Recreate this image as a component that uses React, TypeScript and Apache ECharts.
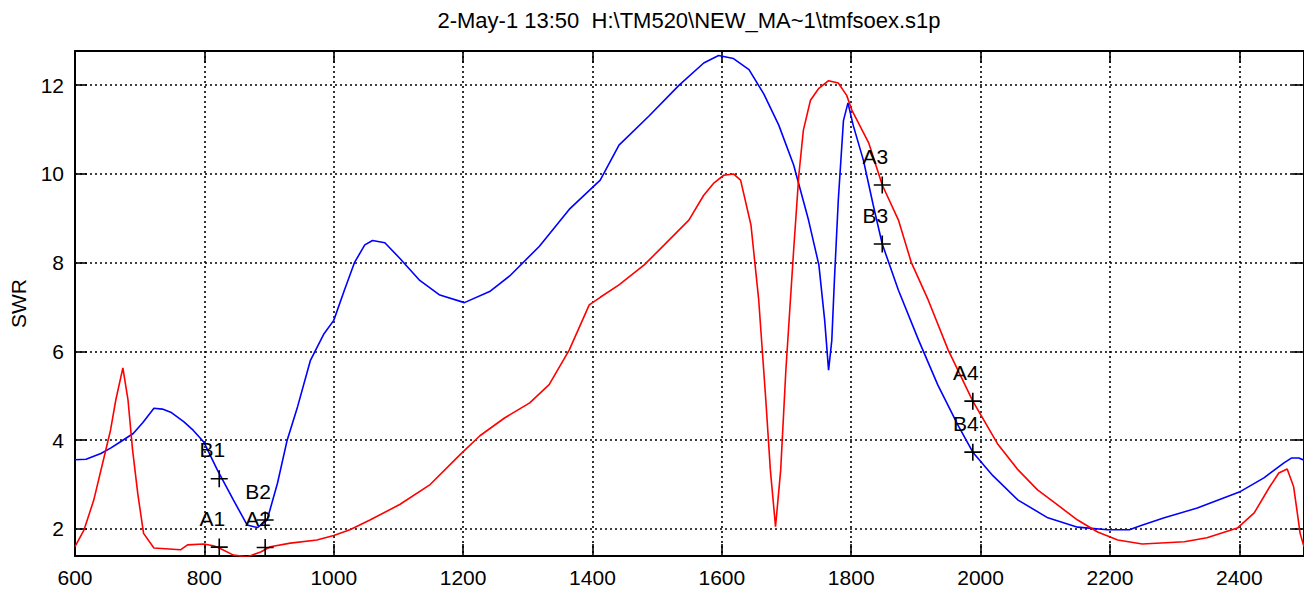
import React, { useEffect, useRef } from "react";
import * as echarts from "echarts";

const titleText = "2-May-1 13:50  H:\\TM520\\NEW_MA~1\\tmfsoex.s1p";
const yAxisName = "SWR";

const xTicks = [600, 800, 1000, 1200, 1400, 1600, 1800, 2000, 2200, 2400];
const yTicks = [2, 4, 6, 8, 10, 12];

const blueX = [600, 617, 640, 655, 671, 690, 705, 722, 735, 748, 768, 783, 799, 820, 845, 866, 882, 897, 913, 928, 944, 964, 985, 1000, 1017, 1032, 1048, 1060, 1079, 1102, 1133, 1164, 1202, 1241, 1272, 1318, 1364, 1412, 1441, 1487, 1534, 1572, 1595, 1618, 1642, 1665, 1688, 1711, 1734, 1750, 1759, 1765, 1770, 1774, 1780, 1788, 1795, 1803, 1819, 1834, 1848, 1873, 1904, 1934, 1965, 1988, 2019, 2058, 2104, 2150, 2196, 2230, 2247, 2284, 2335, 2400, 2438, 2469, 2481, 2492, 2500];
const blueY = [3.56, 3.57, 3.7, 3.82, 3.97, 4.15, 4.4, 4.72, 4.7, 4.63, 4.42, 4.22, 3.96, 3.33, 2.65, 2.09, 2.03, 2.2, 3.03, 4.0, 4.75, 5.8, 6.4, 6.7, 7.4, 8.0, 8.4, 8.5, 8.45, 8.1, 7.6, 7.27, 7.1, 7.35, 7.7, 8.37, 9.2, 9.86, 10.65, 11.3, 12.0, 12.5, 12.67, 12.6, 12.35, 11.8, 11.1, 10.2, 8.96, 7.95, 6.7, 5.58, 6.25, 7.6, 9.4, 11.2, 11.6, 11.1, 10.3, 9.3, 8.42, 7.38, 6.26, 5.24, 4.34, 3.73, 3.2, 2.65, 2.25, 2.04, 1.98, 1.98, 2.07, 2.25, 2.47, 2.83, 3.15, 3.49, 3.6, 3.6, 3.55];

const redX = [600, 614, 629, 645, 655, 663, 674, 682, 689, 697, 706, 722, 763, 774, 799, 814, 823, 845, 866, 887, 902, 933, 974, 1000, 1025, 1056, 1102, 1149, 1195, 1226, 1264, 1303, 1333, 1364, 1395, 1412, 1441, 1480, 1511, 1549, 1572, 1588, 1603, 1618, 1629, 1645, 1657, 1668, 1675, 1683, 1691, 1699, 1711, 1719, 1726, 1737, 1750, 1765, 1780, 1793, 1801, 1827, 1848, 1873, 1893, 1919, 1950, 1988, 2027, 2058, 2088, 2119, 2150, 2181, 2212, 2250, 2315, 2350, 2397, 2423, 2447, 2461, 2474, 2484, 2489, 2494, 2500];
const redY = [1.6, 1.98, 2.65, 3.62, 4.23, 4.9, 5.63, 4.9, 3.78, 2.8, 1.9, 1.57, 1.53, 1.64, 1.66, 1.62, 1.57, 1.41, 1.37, 1.48, 1.6, 1.68, 1.75, 1.85, 1.98, 2.2, 2.55, 3.0, 3.67, 4.1, 4.5, 4.84, 5.25, 6.03, 7.05, 7.22, 7.5, 7.95, 8.4, 8.96, 9.52, 9.8, 9.97, 10.0, 9.86, 8.85, 7.16, 4.9, 3.33, 2.05, 3.33, 5.58, 8.28, 9.97, 10.98, 11.66, 11.93, 12.1, 12.05, 11.77, 11.44, 10.7, 9.75, 8.96, 8.0, 7.16, 6.03, 4.88, 3.9, 3.33, 2.88, 2.54, 2.2, 1.93, 1.75, 1.66, 1.71, 1.8, 2.02, 2.36, 2.95, 3.26, 3.35, 2.95, 2.43, 1.9, 1.6];

const markerNames = ["A1", "A2", "B1", "B2", "A3", "B3", "A4", "B4"];
const markerX = [823, 894, 823, 894, 1848, 1848, 1988, 1988];
const markerY = [1.59, 1.58, 3.13, 2.2, 9.75, 8.42, 4.88, 3.73];

const FONT = "'Liberation Sans', Arial, sans-serif";

export default function App() {
  const ref = useRef<HTMLDivElement>(null);
  useEffect(() => {
    document.body.style.margin = "0";
    const chart = echarts.init(ref.current!, null, { renderer: "svg" });
    const axisLine = { show: true, lineStyle: { color: "#000", width: 2 } };
    const gridLine = { show: true, lineStyle: { color: "#000", type: [2, 3], width: 1.6 } };
    const tick = (vals: number[]) => ({
      show: true,
      inside: true,
      length: 12,
      customValues: vals,
      lineStyle: { color: "#000", width: 1.6 },
    });
    chart.setOption({
      animation: false,
      backgroundColor: "#fff",
      textStyle: { fontFamily: FONT },
      graphic: [
        {
          type: "text",
          x: 689,
          y: 20,
          style: {
            text: titleText,
            font: `22px ${FONT}`,
            fill: "#000",
            textAlign: "center",
            textVerticalAlign: "middle",
          },
        },
      ],
      grid: { left: 74, top: 51, right: -3, bottom: 37, containLabel: false },
      xAxis: [
        {
          type: "value",
          min: 600,
          max: 2500,
          position: "bottom",
          axisLine,
          axisTick: tick(xTicks),
          axisLabel: {
            customValues: xTicks,
            color: "#000",
            fontSize: 21,
            margin: 11,
            fontFamily: FONT,
            formatter: (v: number) => String(v),
          },
          splitLine: gridLine,
        },
        {
          type: "value",
          min: 600,
          max: 2500,
          position: "top",
          axisLine,
          axisTick: tick(xTicks),
          axisLabel: { show: false },
          splitLine: { show: false },
        },
      ],
      yAxis: [
        {
          type: "value",
          min: 1.39,
          max: 12.77,
          position: "left",
          name: yAxisName,
          nameLocation: "middle",
          nameGap: 46,
          nameRotate: 90,
          nameTextStyle: { color: "#000", fontSize: 21, fontFamily: FONT },
          axisLine,
          axisTick: tick(yTicks),
          axisLabel: {
            customValues: yTicks,
            color: "#000",
            fontSize: 21,
            margin: 11,
            fontFamily: FONT,
            formatter: (v: number) => String(v),
          },
          splitLine: gridLine,
        },
        {
          type: "value",
          min: 1.39,
          max: 12.77,
          position: "right",
          axisLine,
          axisTick: tick(yTicks),
          axisLabel: { show: false },
          splitLine: { show: false },
        },
      ],
      series: [
        {
          type: "line",
          xAxisIndex: 0,
          yAxisIndex: 0,
          showSymbol: false,
          data: blueX.map((x, i) => [x, blueY[i]]),
          lineStyle: { color: "#0000ff", width: 1.6 },
          itemStyle: { color: "#0000ff" },
          z: 3,
        },
        {
          type: "line",
          xAxisIndex: 0,
          yAxisIndex: 0,
          showSymbol: false,
          data: redX.map((x, i) => [x, redY[i]]),
          lineStyle: { color: "#ff0000", width: 1.6 },
          itemStyle: { color: "#ff0000" },
          z: 4,
        },
        {
          type: "scatter",
          xAxisIndex: 0,
          yAxisIndex: 0,
          symbol: "path://M10 0 L10 20 M0 10 L20 10",
          symbolSize: 17,
          itemStyle: { color: "transparent", borderColor: "#000", borderWidth: 1.6, opacity: 1 },
          label: {
            show: true,
            formatter: "{b}",
            position: "inside",
            offset: [-7, -29],
            color: "#000",
            textBorderWidth: 0,
            fontSize: 21,
            fontFamily: FONT,
          },
          data: markerNames.map((n, i) => ({ name: n, value: [markerX[i], markerY[i]] })),
          z: 5,
        },
      ],
    });
    return () => chart.dispose();
  }, []);
  return <div ref={ref} style={{ width: 1304, height: 593 }} />;
}
